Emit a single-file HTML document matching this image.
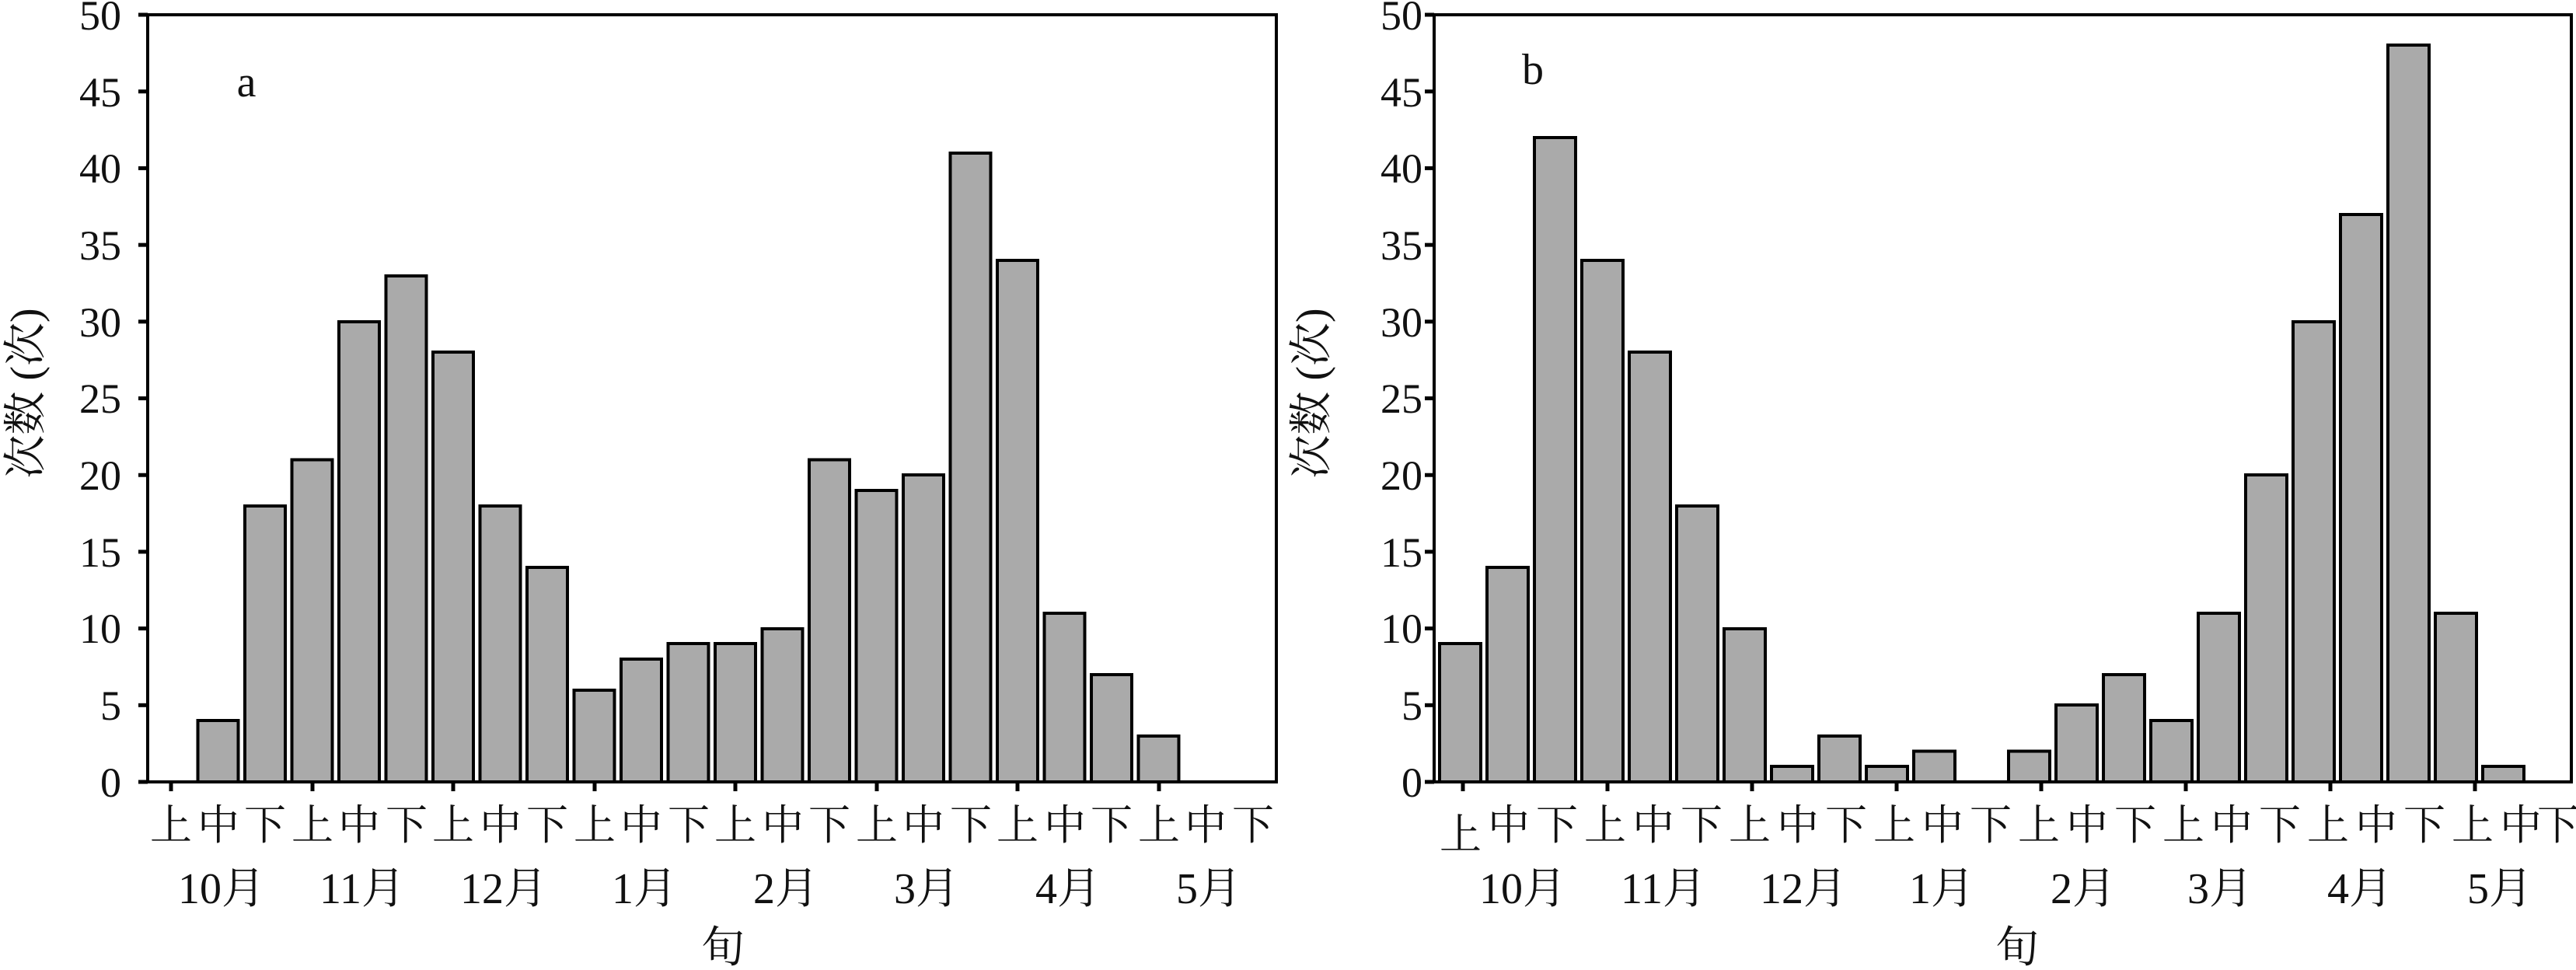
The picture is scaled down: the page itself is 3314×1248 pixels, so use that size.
<!DOCTYPE html>
<html><head><meta charset="utf-8"><style>
html,body{margin:0;padding:0;background:#fff;}
svg{display:block;}
text{font-family:"Liberation Serif","Noto Serif CJK SC",serif;fill:#111;}
</style></head><body>
<svg width="3314" height="1248" viewBox="0 0 3314 1248" xmlns="http://www.w3.org/2000/svg">
<!-- Panel A -->
<g fill="#aaaaaa" stroke="#000" stroke-width="4">
<rect x="254.5" y="927" width="52" height="79"/>
<rect x="315" y="651" width="52" height="355"/>
<rect x="375.5" y="591.5" width="52" height="414.5"/>
<rect x="436" y="414" width="52" height="592"/>
<rect x="496.5" y="355" width="52" height="651"/>
<rect x="557" y="453" width="52" height="553"/>
<rect x="617.5" y="651" width="52" height="355"/>
<rect x="678" y="730" width="52" height="276"/>
<rect x="738.5" y="888" width="52" height="118"/>
<rect x="799" y="848" width="52" height="158"/>
<rect x="859.5" y="828" width="52" height="178"/>
<rect x="920" y="828" width="52" height="178"/>
<rect x="980.5" y="809" width="52" height="197"/>
<rect x="1041" y="591.5" width="52" height="414.5"/>
<rect x="1101.5" y="631" width="52" height="375"/>
<rect x="1162" y="611" width="52" height="395"/>
<rect x="1222.5" y="197" width="52" height="809"/>
<rect x="1283" y="335" width="52" height="671"/>
<rect x="1343.5" y="789" width="52" height="217"/>
<rect x="1404" y="868" width="52" height="138"/>
<rect x="1464.5" y="947" width="52" height="59"/>
</g>
<rect x="190" y="19" width="1452" height="987" fill="none" stroke="#000" stroke-width="4"/>
<g stroke="#000" stroke-width="5">
<line x1="178" y1="1006" x2="190" y2="1006"/><line x1="178" y1="907.3" x2="190" y2="907.3"/><line x1="178" y1="808.6" x2="190" y2="808.6"/><line x1="178" y1="709.9" x2="190" y2="709.9"/><line x1="178" y1="611.2" x2="190" y2="611.2"/><line x1="178" y1="512.5" x2="190" y2="512.5"/><line x1="178" y1="413.8" x2="190" y2="413.8"/><line x1="178" y1="315.1" x2="190" y2="315.1"/><line x1="178" y1="216.4" x2="190" y2="216.4"/><line x1="178" y1="117.7" x2="190" y2="117.7"/><line x1="178" y1="19" x2="190" y2="19"/>
<line x1="220" y1="1006" x2="220" y2="1018"/><line x1="402" y1="1006" x2="402" y2="1018"/><line x1="583" y1="1006" x2="583" y2="1018"/><line x1="765" y1="1006" x2="765" y2="1018"/><line x1="946" y1="1006" x2="946" y2="1018"/><line x1="1128" y1="1006" x2="1128" y2="1018"/><line x1="1309" y1="1006" x2="1309" y2="1018"/><line x1="1491" y1="1006" x2="1491" y2="1018"/>
</g>
<g font-size="54" text-anchor="end">
<text x="156" y="1025">0</text><text x="156" y="926">5</text><text x="156" y="827">10</text><text x="156" y="729">15</text><text x="156" y="630">20</text><text x="156" y="531">25</text><text x="156" y="433">30</text><text x="156" y="334">35</text><text x="156" y="235">40</text><text x="156" y="137">45</text><text x="156" y="38">50</text>
</g>
<text x="317" y="124" font-size="56" text-anchor="middle">a</text>
<g font-size="54" text-anchor="middle">
<text x="220" y="1080">上</text><text x="281" y="1080">中</text><text x="341" y="1080">下</text>
<text x="402" y="1080">上</text><text x="462" y="1080">中</text><text x="523" y="1080">下</text>
<text x="583" y="1080">上</text><text x="644" y="1080">中</text><text x="704" y="1080">下</text>
<text x="765" y="1080">上</text><text x="825" y="1080">中</text><text x="886" y="1080">下</text>
<text x="946" y="1080">上</text><text x="1007" y="1080">中</text><text x="1067" y="1080">下</text>
<text x="1128" y="1080">上</text><text x="1188" y="1080">中</text><text x="1249" y="1080">下</text>
<text x="1309" y="1080">上</text><text x="1370" y="1080">中</text><text x="1430" y="1080">下</text>
<text x="1491" y="1080">上</text><text x="1551" y="1080">中</text><text x="1612" y="1080">下</text>
</g>
<g font-size="56" text-anchor="middle">
<text x="285" y="1162">10月</text><text x="466" y="1162">11月</text><text x="648" y="1162">12月</text><text x="829" y="1162">1月</text><text x="1011" y="1162">2月</text><text x="1192" y="1162">3月</text><text x="1374" y="1162">4月</text><text x="1555" y="1162">5月</text>
</g>
<text x="930" y="1238" font-size="56" text-anchor="middle">旬</text>
<text transform="translate(52,506) rotate(-90)" font-size="56" text-anchor="middle">次数 (次)</text>

<!-- Panel B -->
<g fill="#aaaaaa" stroke="#000" stroke-width="4">
<rect x="1852" y="828" width="53" height="178"/>
<rect x="1913" y="730" width="53" height="276"/>
<rect x="1974" y="177" width="53" height="829"/>
<rect x="2035" y="335" width="53" height="671"/>
<rect x="2096" y="453" width="53" height="553"/>
<rect x="2157" y="651" width="53" height="355"/>
<rect x="2218" y="809" width="53" height="197"/>
<rect x="2279" y="986" width="53" height="20"/>
<rect x="2340" y="947" width="53" height="59"/>
<rect x="2401" y="986" width="53" height="20"/>
<rect x="2462" y="966.5" width="53" height="39.5"/>
<rect x="2584" y="966.5" width="53" height="39.5"/>
<rect x="2645" y="907" width="53" height="99"/>
<rect x="2706" y="868" width="53" height="138"/>
<rect x="2767" y="927" width="53" height="79"/>
<rect x="2828" y="789" width="53" height="217"/>
<rect x="2889" y="611" width="53" height="395"/>
<rect x="2950" y="414" width="53" height="592"/>
<rect x="3011" y="276" width="53" height="730"/>
<rect x="3072" y="58" width="53" height="948"/>
<rect x="3133" y="789" width="53" height="217"/>
<rect x="3194" y="986" width="53" height="20"/>
</g>
<rect x="1845" y="19" width="1463" height="987" fill="none" stroke="#000" stroke-width="4"/>
<g stroke="#000" stroke-width="5">
<line x1="1833" y1="1006" x2="1845" y2="1006"/><line x1="1833" y1="907.3" x2="1845" y2="907.3"/><line x1="1833" y1="808.6" x2="1845" y2="808.6"/><line x1="1833" y1="709.9" x2="1845" y2="709.9"/><line x1="1833" y1="611.2" x2="1845" y2="611.2"/><line x1="1833" y1="512.5" x2="1845" y2="512.5"/><line x1="1833" y1="413.8" x2="1845" y2="413.8"/><line x1="1833" y1="315.1" x2="1845" y2="315.1"/><line x1="1833" y1="216.4" x2="1845" y2="216.4"/><line x1="1833" y1="117.7" x2="1845" y2="117.7"/><line x1="1833" y1="19" x2="1845" y2="19"/>
<line x1="1882" y1="1006" x2="1882" y2="1018"/><line x1="2068" y1="1006" x2="2068" y2="1018"/><line x1="2254" y1="1006" x2="2254" y2="1018"/><line x1="2440" y1="1006" x2="2440" y2="1018"/><line x1="2626" y1="1006" x2="2626" y2="1018"/><line x1="2812" y1="1006" x2="2812" y2="1018"/><line x1="2998" y1="1006" x2="2998" y2="1018"/><line x1="3184" y1="1006" x2="3184" y2="1018"/>
</g>
<g font-size="54" text-anchor="end">
<text x="1830" y="1025">0</text><text x="1830" y="926">5</text><text x="1830" y="827">10</text><text x="1830" y="729">15</text><text x="1830" y="630">20</text><text x="1830" y="531">25</text><text x="1830" y="433">30</text><text x="1830" y="334">35</text><text x="1830" y="235">40</text><text x="1830" y="137">45</text><text x="1830" y="38">50</text>
</g>
<text x="1972" y="108" font-size="56" text-anchor="middle">b</text>
<g font-size="54" text-anchor="middle">
<text x="1879" y="1092">上</text><text x="1941" y="1080">中</text><text x="2003" y="1080">下</text>
<text x="2065" y="1080">上</text><text x="2127" y="1080">中</text><text x="2189" y="1080">下</text>
<text x="2251" y="1080">上</text><text x="2313" y="1080">中</text><text x="2375" y="1080">下</text>
<text x="2437" y="1080">上</text><text x="2499" y="1080">中</text><text x="2561" y="1080">下</text>
<text x="2623" y="1080">上</text><text x="2685" y="1080">中</text><text x="2747" y="1080">下</text>
<text x="2809" y="1080">上</text><text x="2871" y="1080">中</text><text x="2933" y="1080">下</text>
<text x="2995" y="1080">上</text><text x="3057" y="1080">中</text><text x="3119" y="1080">下</text>
<text x="3181" y="1080">上</text><text x="3243" y="1080">中</text><text x="3291" y="1080">下</text>
</g>
<g font-size="56" text-anchor="middle">
<text x="1959" y="1162">10月</text><text x="2140" y="1162">11月</text><text x="2320" y="1162">12月</text><text x="2498" y="1162">1月</text><text x="2680" y="1162">2月</text><text x="2856" y="1162">3月</text><text x="3036" y="1162">4月</text><text x="3216" y="1162">5月</text>
</g>
<text x="2595" y="1238" font-size="56" text-anchor="middle">旬</text>
<text transform="translate(1706,506) rotate(-90)" font-size="56" text-anchor="middle">次数 (次)</text>
</svg>
</body></html>
